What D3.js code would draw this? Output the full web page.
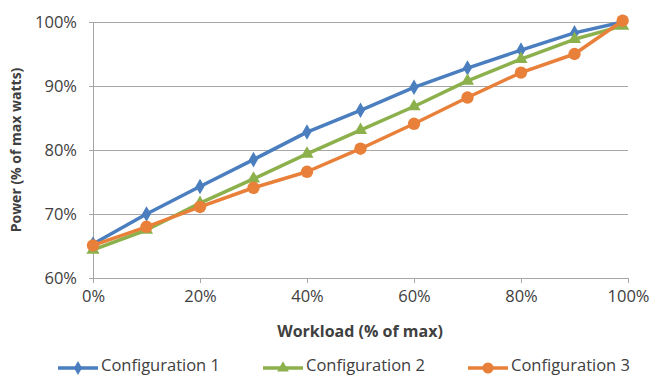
<!DOCTYPE html>
<html><head><meta charset="utf-8">
<script src="https://cdn.jsdelivr.net/npm/d3@7/dist/d3.min.js"></script>
<style>body{margin:0;background:#fff}svg{display:block}text{font-family:"Open Sans",sans-serif;fill:#404040}</style>
</head><body><svg id="c" width="651" height="376"></svg>
<script>
const workload = [0, 10, 20, 30, 40, 50, 60, 70, 80, 90, 99];
const config1 = [65.3, 70.0, 74.3, 78.5, 82.8, 86.2, 89.8, 92.8, 95.6, 98.3, 100.0];
const config2 = [64.4, 67.5, 71.7, 75.5, 79.4, 83.1, 86.8, 90.8, 94.2, 97.3, 99.4];
const config3 = [65.1, 68.0, 71.1, 74.1, 76.6, 80.2, 84.1, 88.2, 92.1, 95.0, 100.2];
const seriesNames = ["Configuration 1", "Configuration 2", "Configuration 3"];
const xTicks = [0, 20, 40, 60, 80, 100];
const yTicks = [60, 70, 80, 90, 100];
const colors = ["#4a7ebf", "#8cb14c", "#e8803a"];
const shapes = [d3.symbolDiamond, d3.symbolTriangle, d3.symbolCircle];
const sizes = [70, 75, 120];

const svg = d3.select("#c");
const x = d3.scaleLinear().domain([0, 100]).range([93, 628]);
const y = d3.scaleLinear().domain([60, 100]).range([278, 22]);

svg.append("g").selectAll("line").data(yTicks.slice(1)).join("line")
  .attr("x1", x(0)).attr("x2", x(100)).attr("y1", d => y(d)).attr("y2", d => y(d))
  .attr("stroke", "#a6a6a6").attr("stroke-width", 1).attr("shape-rendering", "crispEdges");

const yAxis = svg.append("g").attr("transform", `translate(${x(0)},0)`)
  .call(d3.axisLeft(y).tickValues(yTicks).tickFormat(d => d + "%").tickSize(4).tickPadding(12));
const xAxis = svg.append("g").attr("transform", `translate(0,${y(60)})`)
  .call(d3.axisBottom(x).tickValues(xTicks).tickFormat(d => d + "%").tickSize(5).tickPadding(7));
[yAxis, xAxis].forEach(a => {
  a.selectAll("path,line").attr("stroke", "#a6a6a6").attr("shape-rendering", "crispEdges");
  a.selectAll("text").attr("font-size", 16.5).attr("fill", "#404040").attr("font-family", '"Open Sans",sans-serif');
});

const data = [config1, config2, config3];
const line = d3.line().x((d, i) => x(workload[i])).y(d => y(d));
data.forEach((s, k) => {
  svg.append("path").datum(s).attr("d", line).attr("fill", "none")
    .attr("stroke", colors[k]).attr("stroke-width", 3.5).attr("stroke-linejoin", "round");
  svg.append("g").selectAll("path").data(s).join("path")
    .attr("transform", (d, i) => `translate(${x(workload[i])},${y(d)})`)
    .attr("d", d3.symbol().type(shapes[k]).size(sizes[k]))
    .attr("fill", colors[k]);
});

svg.append("text").attr("x", 360).attr("y", 337).attr("text-anchor", "middle")
  .attr("font-size", 16).attr("font-weight", "bold").text("Workload (% of max)");
svg.append("text").attr("transform", "translate(21,150) rotate(-90)").attr("text-anchor", "middle")
  .attr("font-size", 14).attr("font-weight", "bold").text("Power (% of max watts)");

const legX = [58, 263, 468];
seriesNames.forEach((n, k) => {
  const g = svg.append("g").attr("transform", `translate(${legX[k]},368)`);
  g.append("line").attr("x1", 0).attr("x2", 40).attr("stroke", colors[k]).attr("stroke-width", 3.5);
  g.append("path").attr("transform", "translate(20,0)").attr("d", d3.symbol().type(shapes[k]).size(sizes[k] * 0.8)).attr("fill", colors[k]);
  g.append("text").attr("x", 43).attr("y", 3).attr("font-size", 16.5).text(n);
});
</script></body></html>
